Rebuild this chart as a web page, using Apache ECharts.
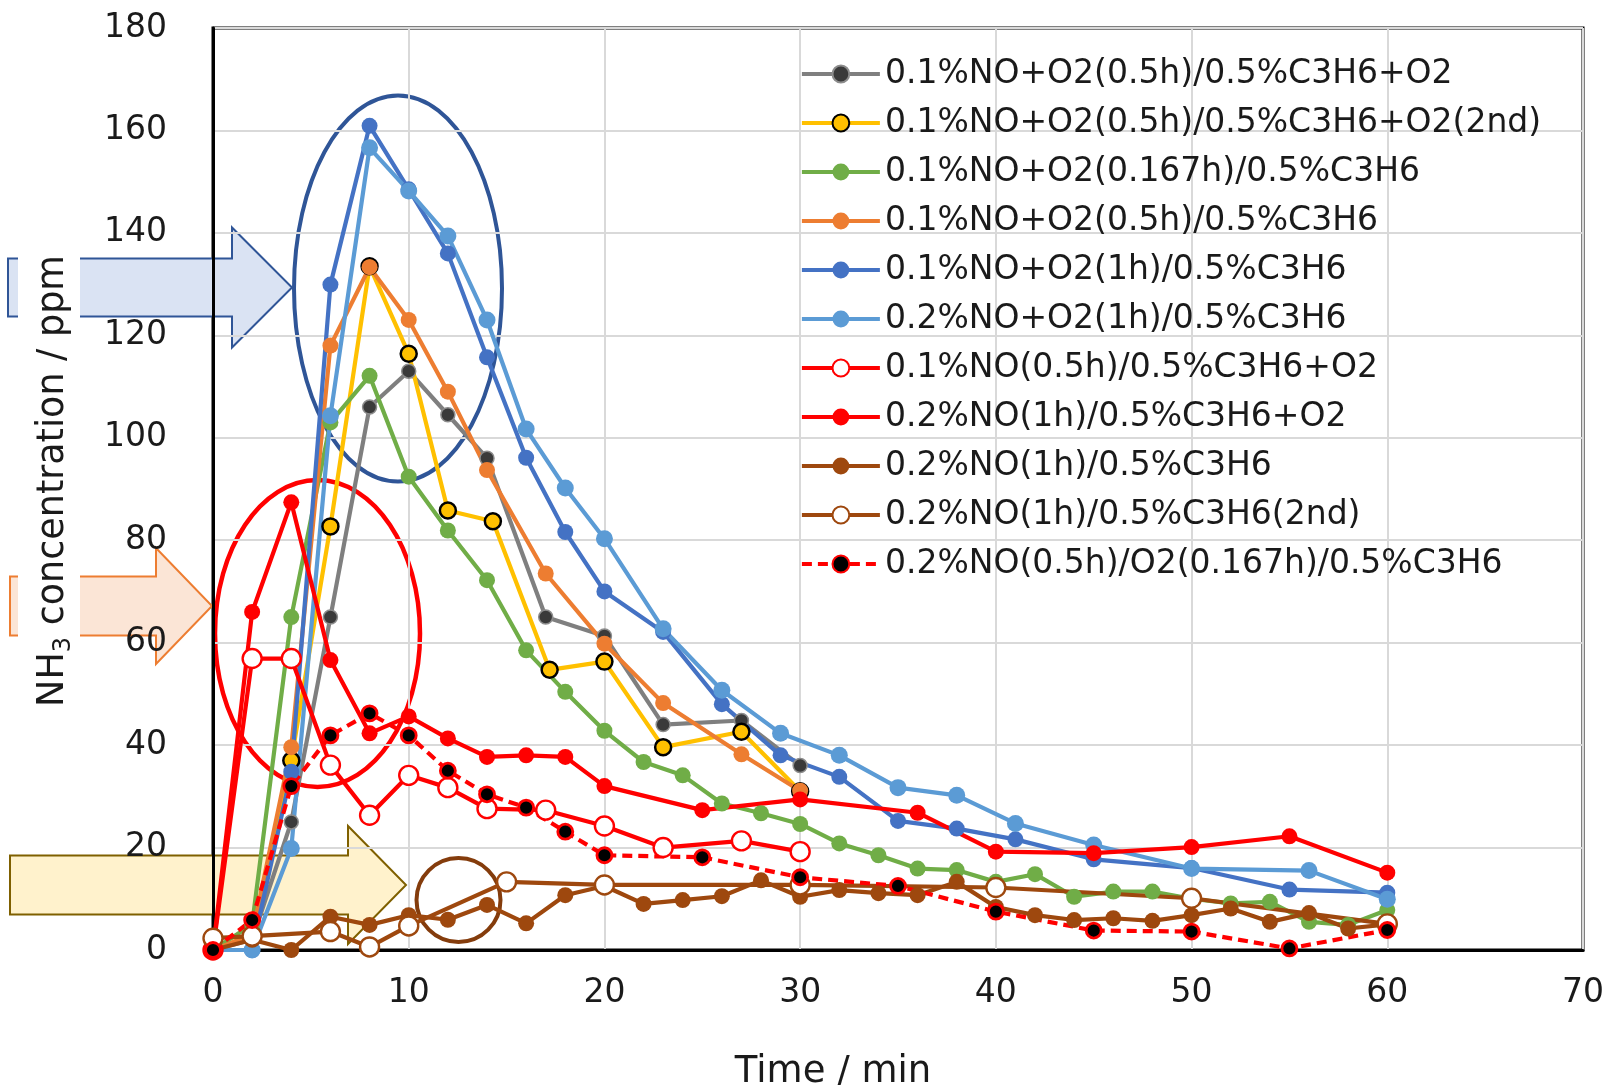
<!DOCTYPE html>
<html><head><meta charset="utf-8">
<script src="https://cdn.jsdelivr.net/npm/echarts/dist/echarts.min.js"></script>
<style>html,body{margin:0;padding:0;background:#fff}#c{width:1605px;height:1085px}</style>
</head><body><div id="c"></div>
<script>
// ---- data (time in min, NH3 in ppm) ----
const seriesNames = [
  '0.1%NO+O2(0.5h)/0.5%C3H6+O2',
  '0.1%NO+O2(0.5h)/0.5%C3H6+O2(2nd)',
  '0.1%NO+O2(0.167h)/0.5%C3H6',
  '0.1%NO+O2(0.5h)/0.5%C3H6',
  '0.1%NO+O2(1h)/0.5%C3H6',
  '0.2%NO+O2(1h)/0.5%C3H6',
  '0.1%NO(0.5h)/0.5%C3H6+O2',
  '0.2%NO(1h)/0.5%C3H6+O2',
  '0.2%NO(1h)/0.5%C3H6',
  '0.2%NO(1h)/0.5%C3H6(2nd)',
  '0.2%NO(0.5h)/O2(0.167h)/0.5%C3H6'
];
const tGray   = [0,2,4,6,8,10,12,14,17,20,23,27,30];
const vGray   = [0,2,25,65,106,113,104.5,96,65,61.3,44,44.8,36];
const tYellow = [0,2,4,6,8,10,12,14.3,17.2,20,23,27,30];
const vYellow = [0,3,37,82.7,133.5,116.4,85.8,83.7,54.7,56.3,39.6,42.6,31];
const tGreen  = [0,2,4,6,8,10,12,14,16,18,20,22,24,26,28,30,32,34,36,38,40,42,44,46,48,50,52,54,56,58,60];
const vGreen  = [0,5,65,103,112.1,92.4,81.9,72.2,58.5,50.4,42.8,36.7,34.1,28.6,26.7,24.6,20.8,18.5,15.9,15.6,13.3,14.8,10.4,11.4,11.4,10,9.1,9.4,5.5,4.9,7.8];
const tOrange = [0,2,4,6,8,10,12,14,17,20,23,27,30];
const vOrange = [0,3,39.6,118,133.3,123,109,93.7,73.5,59.8,48.2,38.2,31.1];
const tBlue   = [0,2,4,6,8,10,12,14,16,18,20,23,26,29,32,35,38,41,45,50,55,60];
const vBlue   = [0,0,34.8,129.9,160.9,148.5,136,115.7,96.1,81.6,70,62.1,48,38,33.8,25.2,23.7,21.6,17.7,16,11.8,11.2];
const tLBlue  = [0,2,4,6,8,10,12,14,16,18,20,23,26,29,32,35,38,41,45,50,56,60];
const vLBlue  = [0,0,19.8,104.3,156.6,148.2,139.4,123,101.7,90.2,80.3,62.7,50.7,42.3,38,31.7,30.2,24.7,20.5,15.9,15.5,9.9];
const tRedO   = [0,2,4,6,8,10,12,14,17,20,23,27,30];
const vRedO   = [0,56.9,56.9,36.1,26.3,34.1,31.7,27.6,27.3,24.2,20,21.3,19.2];
const tRed    = [0,2,4,6,8,10,12,14,16,18,20,25,30,36,40,45,50,55,60];
const vRed    = [0,66,87.4,56.6,42.3,45.6,41.3,37.7,38,37.7,32,27.3,29.4,26.8,19.2,18.9,20.1,22.2,15.1];
const tBrown  = [0,2,4,6,8,10,12,14,16,18,20,22,24,26,28,30,32,34,36,38,40,42,44,46,48,50,52,54,56,58,60];
const vBrown  = [0,2,0,6.5,4.9,6.8,5.9,8.8,5.2,10.7,12.5,9,9.75,10.5,13.6,10.4,11.7,11.1,10.7,13.3,8.4,6.8,5.85,6.2,5.7,6.8,8.1,5.5,7.2,4.2,5];
const tBrownO = [0,2,6,8,10,15,20,30,40,50,60];
const vBrownO = [2.3,2.7,3.6,0.6,4.7,13.3,12.7,12.7,12.2,10.1,5.1];
const tDash   = [0,2,4,6,8,10,12,14,16,18,20,25,30,35,40,45,50,55,60];
const vDash   = [0,5.85,32,41.9,46.2,41.9,35,30.4,27.8,23.1,18.5,18.1,14.2,12.5,7.5,3.8,3.6,0.3,3.9];

const xTickInterval = 10, xMax = 70;
const yTickInterval = 20, yMax = 180;

// ---- styles ----
const FONT = 'DejaVu Sans';
const LW = 4.2;
const styles = [
  {t:tGray,   v:vGray,   line:'#7f7f7f', fill:'#3a3a3a', border:'#8c8c8c', bw:1.5, size:14},
  {t:tYellow, v:vYellow, line:'#ffc000', fill:'#ffc000', border:'#000000', bw:2.5, size:16},
  {t:tGreen,  v:vGreen,  line:'#70ad47', fill:'#70ad47', border:'#70ad47', bw:0, size:16},
  {t:tOrange, v:vOrange, line:'#ed7d31', fill:'#ed7d31', border:'#ed7d31', bw:0, size:16},
  {t:tBlue,   v:vBlue,   line:'#4472c4', fill:'#4472c4', border:'#4472c4', bw:0, size:16},
  {t:tLBlue,  v:vLBlue,  line:'#5b9bd5', fill:'#5b9bd5', border:'#5b9bd5', bw:0, size:17},
  {t:tRedO,   v:vRedO,   line:'#ff0000', fill:'#ffffff', border:'#ff0000', bw:2.4, size:19},
  {t:tRed,    v:vRed,    line:'#ff0000', fill:'#ff0000', border:'#ff0000', bw:0, size:16},
  {t:tBrown,  v:vBrown,  line:'#9e480e', fill:'#9e480e', border:'#9e480e', bw:0, size:16},
  {t:tBrownO, v:vBrownO, line:'#9e480e', fill:'#ffffff', border:'#9e480e', bw:2.4, size:19},
  {t:tDash,   v:vDash,   line:'#ff0000', fill:'#000000', border:'#ff0000', bw:2.8, size:15, dash:[10,6]}
];

const series = styles.map((s, i) => ({
  type: 'line',
  name: seriesNames[i],
  data: s.t.map((x, k) => [x, s.v[k]]),
  symbol: 'circle',
  symbolSize: s.size,
  lineStyle: {color: s.line, width: LW, type: s.dash ? s.dash : 'solid'},
  itemStyle: {color: s.fill, borderColor: s.border, borderWidth: s.bw},
  emphasis: {disabled: true},
  z: 3,
  clip: false
}));

function arrow(x0, x1, x2, cy, shaftHalf, headHalf, fill, stroke) {
  return {
    type: 'polygon', z: 1, silent: true,
    shape: {points: [[x0, cy - shaftHalf], [x1, cy - shaftHalf], [x1, cy - headHalf], [x2, cy],
                     [x1, cy + headHalf], [x1, cy + shaftHalf], [x0, cy + shaftHalf]]},
    style: {fill: fill, stroke: stroke, lineWidth: 2}
  };
}

const chart = echarts.init(document.getElementById('c'), null, {renderer: 'canvas'});
chart.setOption({
  animation: false,
  backgroundColor: '#ffffff',
  grid: {left: 213, top: 28, right: 22, bottom: 135, show: true, borderColor: '#000', borderWidth: 3,
         containLabel: false, outerBoundsMode: 'none'},
  xAxis: {
    type: 'value', min: 0, max: xMax, interval: xTickInterval, z: 2,
    axisLine: {show: true, onZero: false, lineStyle: {color: '#000', width: 3}},
    axisTick: {show: false},
    splitLine: {show: true, lineStyle: {color: '#d9d9d9', width: 2}},
    axisLabel: {fontFamily: FONT, fontSize: 33, color: '#1a1a1a', margin: 27}
  },
  yAxis: {
    type: 'value', min: 0, max: yMax, interval: yTickInterval, z: 2,
    axisLine: {show: true, onZero: false, lineStyle: {color: '#000', width: 3}},
    axisTick: {show: false},
    splitLine: {show: true, lineStyle: {color: '#d9d9d9', width: 2}},
    axisLabel: {fontFamily: FONT, fontSize: 33, color: '#1a1a1a', margin: 46}
  },
  legend: {
    orient: 'vertical', left: 795, top: 49, itemWidth: 78, itemHeight: 21, itemGap: 9,
    selectedMode: false,
    lineStyle: {width: 3.8},
    textStyle: {fontFamily: FONT, fontSize: 33, color: '#1a1a1a', lineHeight: 40},
    data: seriesNames
  },
  series: series,
  graphic: [
    arrow(8, 232, 292, 287.5, 29, 60, '#dae3f3', '#2f5597'),
    arrow(10, 156, 212, 606, 29.5, 58, '#fbe5d6', '#ed7d31'),
    arrow(10, 348, 406, 885, 29.5, 59, '#fff2cc', '#7f6000'),
    {type: 'rect', z: 2, silent: true, shape: {x: 18, y: 245, width: 62, height: 475}, style: {fill: '#ffffff'}},
    {type: 'text', z: 2, silent: true, x: 54, y: 481, rotation: Math.PI / 2,
     style: {text: '{a|NH}{s|3}{a| concentration / ppm}', align: 'center', verticalAlign: 'middle',
             rich: {a: {fontFamily: FONT, fontSize: 36.5, lineHeight: 44, fill: '#1a1a1a', color: '#1a1a1a'},
                    s: {fontFamily: FONT, fontSize: 24, lineHeight: 24, verticalAlign: 'bottom', fill: '#1a1a1a', color: '#1a1a1a'}}}},
    {type: 'text', z: 2, silent: true, x: 833, y: 1072,
     style: {text: 'Time / min', fontFamily: FONT, fontSize: 37, fill: '#1a1a1a', align: 'center', verticalAlign: 'middle'}},
    {type: 'ellipse', z: 2, silent: true, shape: {cx: 398, cy: 288.5, rx: 104, ry: 193},
     style: {fill: 'none', stroke: '#2f5597', lineWidth: 4}},
    {type: 'ellipse', z: 2, silent: true, shape: {cx: 317.5, cy: 633.5, rx: 102.5, ry: 153.5},
     style: {fill: 'none', stroke: '#ff0000', lineWidth: 4.5}},
    {type: 'circle', z: 2, silent: true, shape: {cx: 458.5, cy: 900, r: 42},
     style: {fill: 'none', stroke: '#843c0c', lineWidth: 4}}
  ]
});
</script>
</body></html>
